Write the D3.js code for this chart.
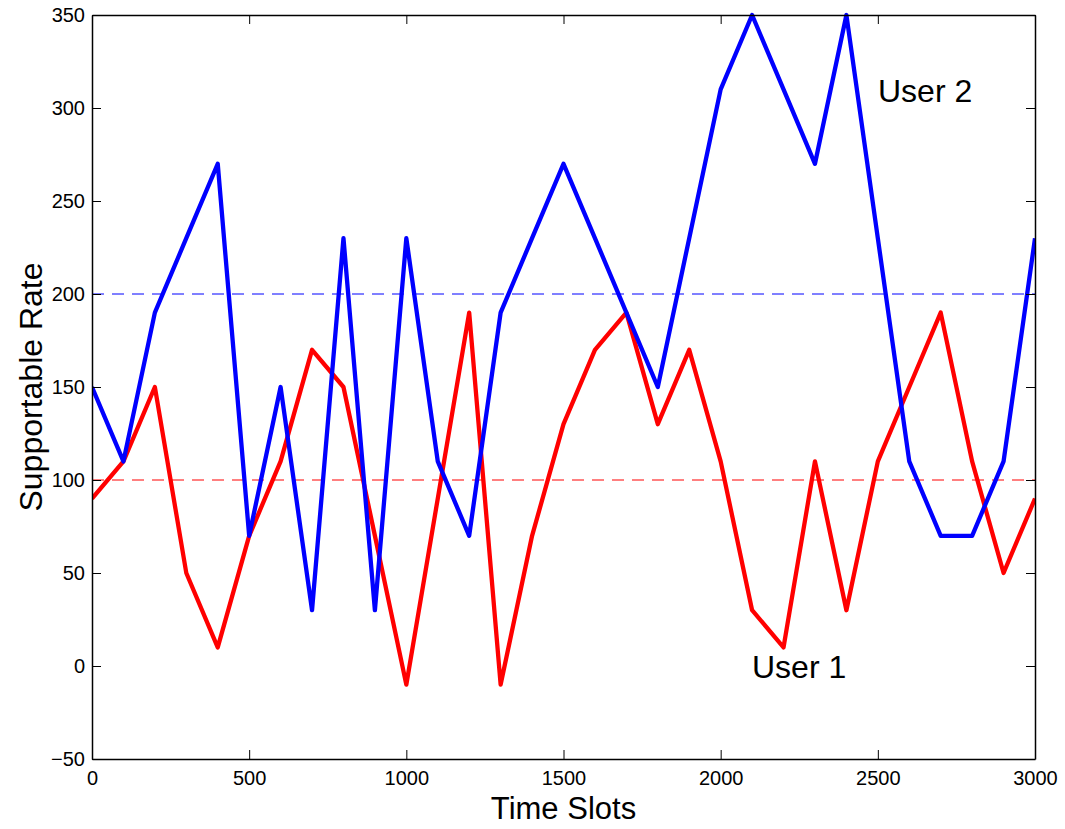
<!DOCTYPE html>
<html>
<head>
<meta charset="utf-8">
<script src="https://cdn.jsdelivr.net/npm/d3@7"></script>
<style>
  html, body { margin: 0; padding: 0; background: #fff; }
  svg { display: block; font-family: "Liberation Sans", Arial, Helvetica, sans-serif; }
</style>
</head>
<body>
<svg id="chart" width="1065" height="829"></svg>
<script>
// Time slot samples (every 100 slots)
const timeSlots = d3.range(0, 3001, 100);

// Supportable rate per user
const user1Rates = [90, 110, 150, 50, 10, 70, 110, 170, 150, 70, -10, 90, 190, -10, 70, 130,
                    170, 190, 130, 170, 110, 30, 10, 110, 30, 110, 150, 190, 110, 50, 90];
const user2Rates = [150, 110, 190, 230, 270, 70, 150, 30, 230, 30, 230, 110, 70, 190, 230, 270,
                    230, 190, 150, 230, 310, 350, 310, 270, 350, 230, 110, 70, 70, 110, 230];

// Average rate reference levels
const user1Average = 100;
const user2Average = 200;

const xTicks = [0, 500, 1000, 1500, 2000, 2500, 3000];
const yTicks = [-50, 0, 50, 100, 150, 200, 250, 300, 350];

const margin = { left: 92, right: 30, top: 15, bottom: 70 };
const width = 1065, height = 829;
const svg = d3.select("#chart");

const x = d3.scaleLinear().domain([0, 3000]).range([margin.left, width - margin.right]);
const y = d3.scaleLinear().domain([-50, 350]).range([height - margin.bottom, margin.top]);

const tickLen = 9;
const fontTick = 20;

// Plot clip
svg.append("defs").append("clipPath").attr("id", "plot-clip")
  .append("rect")
  .attr("x", x(0)).attr("y", y(350) - 3)
  .attr("width", x(3000) - x(0)).attr("height", y(-50) - y(350) + 3);

// Dashed average levels
const avgG = svg.append("g");
avgG.append("line")
  .attr("x1", x(0)).attr("x2", x(3000))
  .attr("y1", y(user2Average)).attr("y2", y(user2Average))
  .attr("stroke", "#0000ff").attr("stroke-width", 1).attr("stroke-dasharray", "12,8");
avgG.append("line")
  .attr("x1", x(0)).attr("x2", x(3000))
  .attr("y1", y(user1Average)).attr("y2", y(user1Average))
  .attr("stroke", "#ff0000").attr("stroke-width", 1).attr("stroke-dasharray", "12,8");

// Rate curves
const line = d3.line().x((d, i) => x(timeSlots[i])).y(d => y(d));
const lines = svg.append("g").attr("clip-path", "url(#plot-clip)");
lines.append("path").datum(user1Rates)
  .attr("d", line).attr("fill", "none")
  .attr("stroke", "#ff0000").attr("stroke-width", 4.3).attr("stroke-linejoin", "round");
lines.append("path").datum(user2Rates)
  .attr("d", line).attr("fill", "none")
  .attr("stroke", "#0000ff").attr("stroke-width", 4.3).attr("stroke-linejoin", "round");

// Axes (box with inward ticks)
function styleAxis(g) {
  g.select(".domain").attr("stroke", "#000").attr("stroke-width", 1.5);
  g.selectAll(".tick line").attr("stroke", "#000").attr("stroke-width", 1);
  g.selectAll(".tick text").attr("fill", "#000").attr("font-size", fontTick)
    .attr("font-family", "'Liberation Sans', Arial, sans-serif");
}

svg.append("g")
  .attr("transform", `translate(0,${y(-50)})`)
  .call(d3.axisBottom(x).tickValues(xTicks).tickSizeInner(-tickLen).tickSizeOuter(0).tickPadding(12).tickFormat(d3.format("d")))
  .call(styleAxis);

svg.append("g")
  .attr("transform", `translate(0,${y(350)})`)
  .call(d3.axisTop(x).tickValues(xTicks).tickSizeInner(-tickLen).tickSizeOuter(0).tickFormat(""))
  .call(styleAxis);

svg.append("g")
  .attr("transform", `translate(${x(0)},0)`)
  .call(d3.axisLeft(y).tickValues(yTicks).tickSizeInner(-tickLen).tickSizeOuter(0).tickPadding(7)
    .tickFormat(d => d < 0 ? "\u2212" + Math.abs(d) : d))
  .call(styleAxis);

svg.append("g")
  .attr("transform", `translate(${x(3000)},0)`)
  .call(d3.axisRight(y).tickValues(yTicks).tickSizeInner(-tickLen).tickSizeOuter(0).tickFormat(""))
  .call(styleAxis);

// Axis titles
svg.append("text")
  .attr("x", (x(0) + x(3000)) / 2).attr("y", 819)
  .attr("text-anchor", "middle").attr("font-size", 31).attr("fill", "#000")
  .text("Time Slots");

svg.append("text")
  .attr("transform", `translate(42,${(y(-50) + y(350)) / 2}) rotate(-90)`)
  .attr("text-anchor", "middle").attr("font-size", 32).attr("fill", "#000")
  .text("Supportable Rate");

// Curve annotations
svg.append("text")
  .attr("x", 878).attr("y", 102)
  .attr("font-size", 32).attr("fill", "#000")
  .text("User 2");

svg.append("text")
  .attr("x", 752).attr("y", 678)
  .attr("font-size", 32).attr("fill", "#000")
  .text("User 1");
</script>
</body>
</html>
